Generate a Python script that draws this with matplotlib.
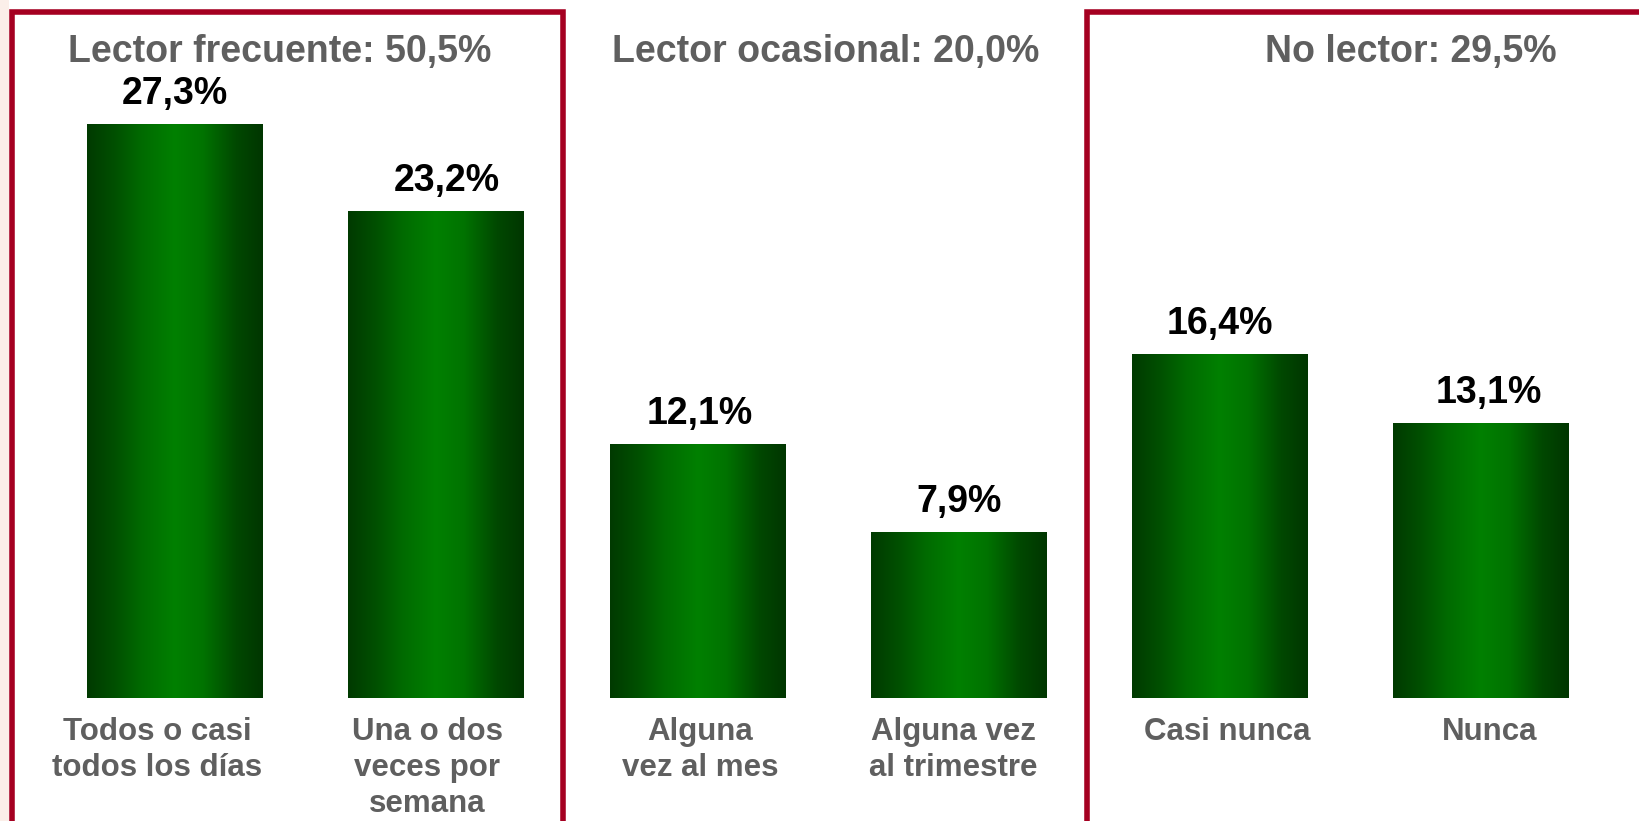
import numpy as np
import matplotlib
matplotlib.use("Agg")
import matplotlib.pyplot as plt
from matplotlib.colors import LinearSegmentedColormap
from matplotlib.lines import Line2D
from matplotlib.patches import Rectangle

# Datos del gráfico
categorias = ["Todos o casi\ntodos los días", "Una o dos\nveces por\nsemana",
              "Alguna\nvez al mes", "Alguna vez\nal trimestre",
              "Casi nunca", "Nunca"]
valores = [27.3, 23.2, 12.1, 7.9, 16.4, 13.1]
etiquetas = ["27,3%", "23,2%", "12,1%", "7,9%", "16,4%", "13,1%"]
grupos = ["Lector frecuente: 50,5%", "Lector ocasional: 20,0%", "No lector: 29,5%"]

W, H = 1639, 821
plt.rcParams['font.family'] = ['Liberation Sans', 'DejaVu Sans']
plt.rcParams['font.weight'] = 'bold'

fig = plt.figure(figsize=(W / 100, H / 100), dpi=100)
fig.patch.set_facecolor('white')
ax = fig.add_axes([0, 0, 1, 1])
ax.set_axis_off()
ax.set_xlim(-0.670, 5.604)
ax.set_ylim(-5.84, 33.22)

# Degradado verde de las barras
verde = LinearSegmentedColormap.from_list("verde", [
    (0.0, "#003a00"), (0.15, "#004f00"), (0.32, "#006c00"),
    (0.5, "#008000"), (0.66, "#007300"), (0.85, "#004800"), (1.0, "#003600")])
grad = np.linspace(0, 1, 256).reshape(1, -1)

x = np.arange(len(valores))
barras = ax.bar(x, valores, width=0.672, color='none', edgecolor='none')
for b in barras:
    x0, w, h = b.get_x(), b.get_width(), b.get_height()
    im = ax.imshow(grad, cmap=verde, aspect='auto', extent=(x0, x0 + w, 0, h),
                   interpolation='bilinear', zorder=2)
    im.set_clip_path(b)

# Valores encima de las barras
dx = [0, 11, 2, 0, 0, 8]
for i, (v, t) in enumerate(zip(valores, etiquetas)):
    ax.annotate(t, (x[i], v), xytext=(dx[i], 30), textcoords='offset pixels',
                ha='center', va='center', fontsize=27, fontweight='bold', color='black')

# Etiquetas de categoría
gris = '#5f5f5f'
cdx = [-18, -9, 3, -5, 7, 8]
for i, c in enumerate(categorias):
    ax.annotate(c, (x[i], 0), xytext=(cdx[i], -19), textcoords='offset pixels',
                ha='center', va='top', fontsize=22.5, fontweight='bold', color=gris,
                linespacing=1.25)

# Títulos de los grupos
for gx, g in zip([280, 826, 1411], grupos):
    fig.text(gx / W, 1 - 52 / H, g, ha='center', va='center', fontsize=27,
             fontweight='bold', color=gris)

# Franja rosada a la izquierda
fig.add_artist(Rectangle((0, 0), 9 / W, 1, transform=fig.transFigure,
                         facecolor='#fbefe9', edgecolor='none'))

# Recuadros rojos
rojo = '#a50021'
lw = 4.0
top = 1 - 12 / H
fig.add_artist(Line2D([12 / W, 12 / W, 563 / W, 563 / W], [-0.05, top, top, -0.05],
                      transform=fig.transFigure, color=rojo, lw=lw,
                      solid_joinstyle='miter'))
fig.add_artist(Line2D([1087 / W, 1087 / W, 1.05], [-0.05, top, top],
                      transform=fig.transFigure, color=rojo, lw=lw,
                      solid_joinstyle='miter'))

fig.savefig("out.png", dpi=100)
